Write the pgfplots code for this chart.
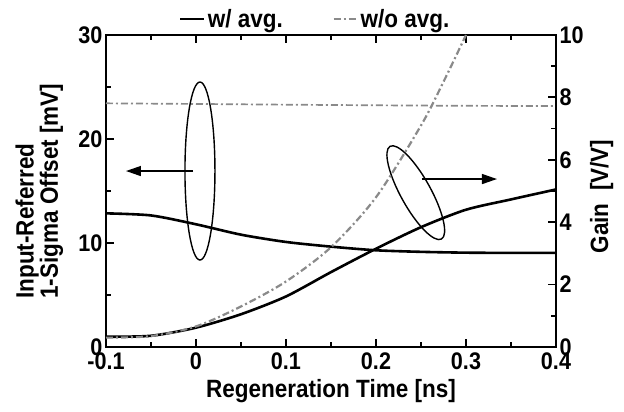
\documentclass[border=0pt]{standalone}
\usepackage{fontspec}
\setmainfont{Liberation Sans}[FakeStretch=0.9]
\usepackage{pgfplots}
\usepackage{pgfplotstable}
\pgfplotsset{compat=1.18}
\usetikzlibrary{arrows.meta,shapes.geometric}

\definecolor{dgray}{RGB}{138,138,138}

% offset in mV (left axis), gain in V/V (right axis)
\pgfplotstableread{
t     off    gain
-0.10 12.85  0.33
-0.05 12.65  0.36
0.00  11.80  0.62
0.05  10.80  1.05
0.10  10.10  1.62
0.15   9.65  2.40
0.20   9.30  3.15
0.25   9.15  3.84
0.30   9.07  4.40
0.35   9.05  4.73
0.40   9.05  5.05
}\withavg

\pgfplotstableread{
t     off
-0.10 23.43
0.00  23.37
0.10  23.30
0.20  23.24
0.30  23.19
0.40  23.17
}\woavgoff

\pgfplotstableread{
t     gain
-0.10 0.30
-0.05 0.35
0.00  0.66
0.05  1.30
0.10  2.10
0.15  3.20
0.20  4.80
0.25  7.10
0.275 8.50
0.30  10.0
}\woavggain

\newcommand{\tickfont}{\bfseries\fontsize{24}{23}\selectfont}
\newcommand{\bigfont}{\bfseries\fontsize{25}{23}\selectfont}
\newcommand{\legfont}{\bfseries\fontsize{25}{25}\selectfont}

\begin{document}
\begin{tikzpicture}
\useasboundingbox (-106pt,-65pt) rectangle (518pt,347pt);
\pgfplotsset{
  base/.style={
    scale only axis, width=450pt, height=312pt,
    xmin=-0.1, xmax=0.4,
    tick align=inside,
    major tick length=8pt, minor tick length=5pt,
    axis line style={line width=2.4pt},
    every tick/.style={black, line width=1.8pt},
    tick label style={font=\tickfont},
    label style={font=\bigfont},
    /pgf/number format/assume math mode=true,
  },
}
\begin{axis}[
  base,
  ymin=0, ymax=30,
  xtick={-0.1,0,0.1,0.2,0.3,0.4}, minor x tick num=1,
  xticklabels={-0.1,0,0.1,0.2,0.3,0.4},
  xticklabel style={yshift=-2pt},
  ytick={0,10,20,30}, minor y tick num=1,
  ytick pos=left, xtick pos=both,
  xlabel={Regeneration Time [ns]},
  xlabel style={yshift=-3pt},
  ylabel={Input-Referred\\1-Sigma Offset [mV]},
  ylabel style={align=left, at={(axis description cs:-0.148,0.5)}, anchor=center},
  legend columns=2,
  legend style={at={(0.465,1)}, anchor=south, yshift=2pt, draw=none, fill=none,
    font=\legfont, /tikz/every even column/.append style={column sep=48pt}},
  legend image code/.code={\draw[#1] (0pt,0pt) -- (24pt,0pt);},
]
\addplot[black, line width=2.6pt, smooth, tension=0.45] table[x=t, y=off] {\withavg};
\addlegendentry{w/ avg.}
\addplot[dgray, line width=1.7pt, dash pattern=on 7pt off 3pt on 2pt off 3pt] table[x=t, y=off] {\woavgoff};
\addlegendentry{w/o avg.}

\node[draw, ellipse, line width=1.4pt, minimum width=30pt, minimum height=178pt, inner sep=0pt] at (axis cs:0.0044,16.92) {};
\draw[line width=1.4pt, -{Triangle[length=15pt,width=10pt]}] (axis cs:-0.0033,16.92) -- (axis cs:-0.0778,16.92);
\node[draw, ellipse, rotate=-61, line width=1.4pt, minimum width=106pt, minimum height=30pt, inner sep=0pt] at (axis cs:0.2442,14.84) {};
\draw[line width=1.4pt, -{Triangle[length=15pt,width=10pt]}] (axis cs:0.2511,16.15) -- (axis cs:0.3344,16.15);
\end{axis}

\begin{axis}[
  base,
  ymin=0, ymax=10,
  axis x line=none, axis y line*=right,
  ytick={0,2,4,6,8,10}, minor y tick num=1,
  ylabel={Gain\ \ [V/V]},
  ylabel style={at={(axis description cs:1.1016,0.482)}, anchor=center},
]
\addplot[black, line width=2.6pt, smooth, tension=0.45] table[x=t, y=gain] {\withavg};
\addplot[dgray, line width=2.2pt, smooth, tension=0.5, dash pattern=on 7pt off 3pt on 2pt off 3pt] table[x=t, y=gain] {\woavggain};
\end{axis}
\end{tikzpicture}
\end{document}
